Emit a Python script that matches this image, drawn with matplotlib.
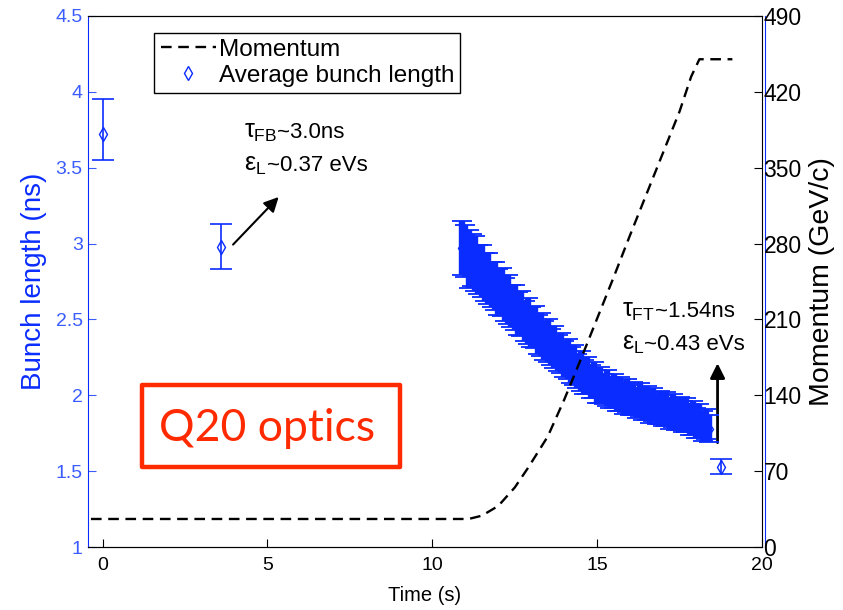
import matplotlib
matplotlib.use("Agg")
import matplotlib.pyplot as plt
from matplotlib.lines import Line2D
from matplotlib.patches import FancyArrowPatch, Rectangle
from matplotlib.offsetbox import TextArea, HPacker, AnnotationBbox

plt.rcParams['font.family'] = ['Liberation Sans', 'DejaVu Sans']
plt.rcParams['mathtext.fontset'] = 'custom'
plt.rcParams['mathtext.rm'] = 'Liberation Sans'
plt.rcParams['mathtext.it'] = 'Liberation Sans'

BLUE = '#0a2cff'
TICKBLUE = '#3a5cff'
RED = '#ff2a00'

# momentum program (GeV/c)
mom_t = [-0.35, 11.1, 11.5, 12.0, 12.5, 12.9, 13.5, 14.0, 14.5, 15.0, 15.5,
         16.0, 16.5, 17.0, 17.5, 17.85, 18.1, 19.1]
mom_p = [26, 26, 29, 38, 55, 73, 102, 136, 173, 211, 249,
         288, 326, 364, 402, 434, 450, 450]

# isolated bunch length measurements
single_t = [0.0, 3.6, 18.75]
single_len = [3.72, 2.98, 1.53]
single_err_lo = [0.17, 0.15, 0.05]
single_err_hi = [0.23, 0.15, 0.05]

# dense measurement along the ramp (one every 0.1 s from 10.9 s)
ramp_t = [10.9 + 0.1 * i for i in range(76)]
ramp_len = [2.97, 2.95, 2.90, 2.89, 2.87, 2.83, 2.82, 2.78, 2.77, 2.73,
            2.72, 2.68, 2.68, 2.63, 2.63, 2.59, 2.58, 2.54, 2.54, 2.49,
            2.49, 2.45, 2.45, 2.40, 2.40, 2.36, 2.36, 2.32, 2.32, 2.28,
            2.28, 2.24, 2.24, 2.20, 2.20, 2.16, 2.16, 2.12, 2.13, 2.09,
            2.10, 2.06, 2.07, 2.04, 2.05, 2.02, 2.03, 2.00, 2.01, 1.98,
            2.00, 1.97, 1.98, 1.95, 1.97, 1.94, 1.95, 1.92, 1.94, 1.91,
            1.92, 1.90, 1.91, 1.88, 1.90, 1.87, 1.88, 1.86, 1.87, 1.84,
            1.85, 1.82, 1.83, 1.80, 1.81, 1.78]
ramp_err = [0.18, 0.17, 0.19, 0.17, 0.18, 0.16, 0.17, 0.16, 0.17, 0.15,
            0.16, 0.15, 0.16, 0.14, 0.16, 0.14, 0.15, 0.14, 0.15, 0.13,
            0.15, 0.13, 0.14, 0.13, 0.14, 0.13, 0.14, 0.12, 0.14, 0.12,
            0.13, 0.12, 0.13, 0.12, 0.13, 0.11, 0.13, 0.11, 0.12, 0.11,
            0.12, 0.11, 0.12, 0.10, 0.12, 0.10, 0.11, 0.10, 0.11, 0.10,
            0.11, 0.10, 0.11, 0.10, 0.11, 0.10, 0.11, 0.10, 0.11, 0.10,
            0.11, 0.10, 0.11, 0.10, 0.11, 0.10, 0.11, 0.10, 0.11, 0.10,
            0.11, 0.10, 0.11, 0.10, 0.10, 0.09]

fig = plt.figure(figsize=(8.43, 6.10), dpi=100)
ax = fig.add_axes([0.104, 0.103, 0.800, 0.871])
ax2 = ax.twinx()

# bunch length on the left axis
ax.errorbar(ramp_t, ramp_len, yerr=ramp_err, fmt='d', color=BLUE, mfc='none',
            ms=6, elinewidth=4.6, capsize=7, capthick=1.3, zorder=2)
ax.errorbar(single_t, single_len, yerr=[single_err_lo, single_err_hi], fmt='d',
            color=BLUE, mfc='none', ms=7, elinewidth=1.2, capsize=8, capthick=1.2)

ax.set_xlim(-0.45, 20)
ax.set_ylim(1, 4.5)
ax.set_xticks([0, 5, 10, 15, 20])
ax.set_yticks([1, 1.5, 2, 2.5, 3, 3.5, 4, 4.5])
ax.set_yticklabels(['1', '1.5', '2', '2.5', '3', '3.5', '4', '4.5'])
ax.tick_params(axis='y', colors=TICKBLUE, direction='in', length=6, labelsize=14)
ax.tick_params(axis='x', direction='in', length=6, labelsize=14, pad=7)
ax.set_xlabel('Time (s)', fontsize=14.5, labelpad=9)
ax.set_ylabel('Bunch length (ns)', fontsize=20, color=BLUE, labelpad=6)
ax.spines['left'].set_color(BLUE)
ax.spines['right'].set_color(BLUE)
ax.spines['right'].set_position(('outward', 2))

# momentum on the right axis
ax2.plot(mom_t, mom_p, color='black', lw=1.7, linestyle=(0, (4.5, 2.8)))
ax2.set_ylim(0, 490)
ax2.set_yticks(range(0, 491, 70))
ax2.tick_params(axis='y', direction='in', length=6, labelsize=16.5, pad=1)
ax2.set_ylabel('Momentum (GeV/c)', fontsize=20.5, labelpad=5)
ax2.spines['left'].set_visible(False)

handles = [Line2D([], [], color='black', lw=1.7, linestyle=(0, (4.5, 2.8))),
           Line2D([], [], color=BLUE, marker='d', mfc='none', ls='none', ms=7)]
leg = ax2.legend(handles, ['Momentum', 'Average bunch length'], loc='upper left',
                 bbox_to_anchor=(0.099, 0.968), fontsize=17.5, fancybox=False,
                 edgecolor='black', framealpha=1, borderpad=0.25,
                 handlelength=2.3, handletextpad=0.1, labelspacing=0.15,
                 borderaxespad=0)
leg.get_frame().set_linewidth(1.0)


def note(x, y, greek, rest):
    a = TextArea(greek, textprops=dict(fontsize=18))
    b = TextArea(rest, textprops=dict(fontsize=16))
    box = HPacker(children=[a, b], align='baseline', pad=0, sep=0)
    ab = AnnotationBbox(box, (x, y), xycoords='data', box_alignment=(0, 0.5),
                        frameon=False, pad=0)
    ax.add_artist(ab)


# annotations
note(4.3, 3.74, r'$\tau_{\mathrm{FB}}$', '~3.0ns')
note(4.3, 3.52, r'$\epsilon_{\mathrm{L}}$', '~0.37 eVs')
ax.add_patch(FancyArrowPatch((3.9, 2.98), (5.4, 3.32), arrowstyle='-|>',
                             mutation_scale=22, color='black', lw=1.5))
note(15.75, 2.56, r'$\tau_{\mathrm{FT}}$', '~1.54ns')
note(15.75, 2.34, r'$\epsilon_{\mathrm{L}}$', '~0.43 eVs')
ax.add_patch(FancyArrowPatch((18.65, 1.67), (18.65, 2.23), arrowstyle='-|>',
                             mutation_scale=22, color='black', lw=2.0))

fig.patches.append(Rectangle((0.1684, 0.2344), 0.306, 0.1344,
                             transform=fig.transFigure, fill=False,
                             ec=RED, lw=3.2, joinstyle='round'))
fig.text(0.3173, 0.298, 'Q20 optics', fontsize=32, color=RED,
         family=['Lato', 'DejaVu Sans'], ha='center', va='center')

fig.savefig('out.png', dpi=100)
